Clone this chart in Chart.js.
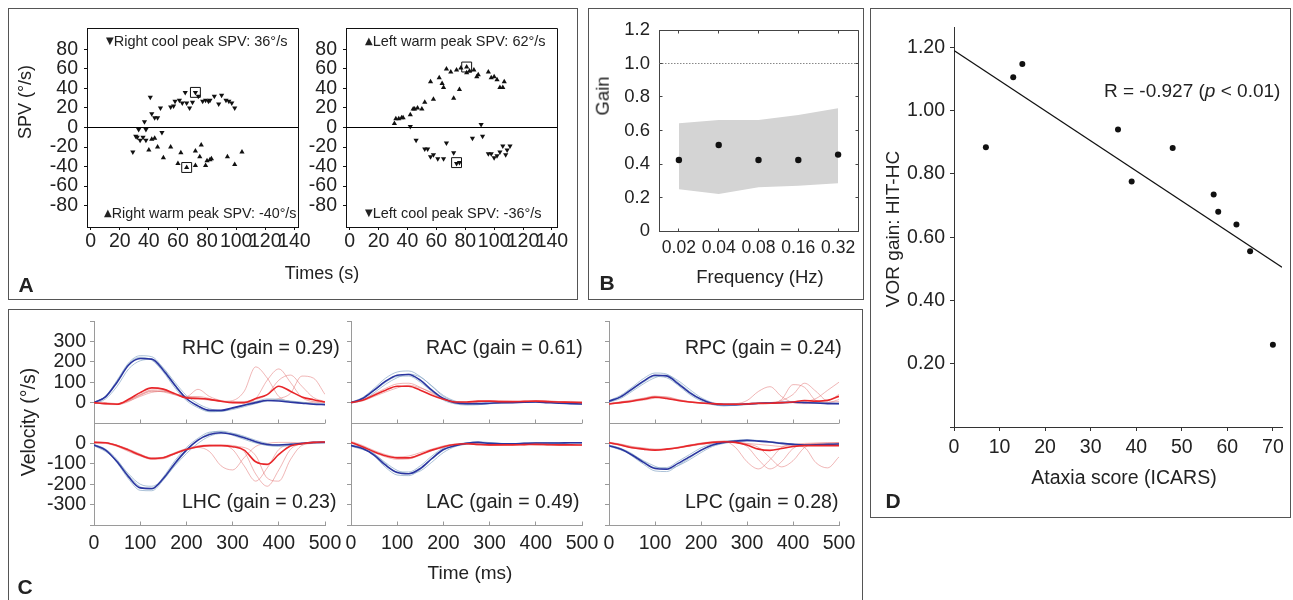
<!DOCTYPE html>
<html>
<head>
<meta charset="utf-8">
<script src="https://cdn.jsdelivr.net/npm/chart.js"></script>
<style>
  body { margin: 0; background: #fff; width: 1293px; height: 600px; overflow: hidden; position: relative;
         font-family: "Liberation Sans", Arial, sans-serif; color: #222; }
  .box { position: absolute; border: 1px solid #555; box-sizing: border-box; }
  .t { position: absolute; white-space: nowrap; line-height: 1; }
  .c { transform: translate(-50%, -50%); }
  .v { transform: translate(-50%, -50%) rotate(-90deg); }
  .m { transform: translateY(-50%); }
  .tag { font-weight: bold; font-size: 21px; }
  .tri { font-size: 10px; font-family: "DejaVu Sans", sans-serif; position: relative; top: -2px; }
  canvas { position: absolute; }
</style>
</head>
<body>
<div class="box" style="left:8px;top:8px;width:570px;height:292px"></div>
<div class="box" style="left:588px;top:8px;width:276px;height:292px"></div>
<div class="box" style="left:8px;top:309px;width:855px;height:300px"></div>
<div class="box" style="left:870px;top:8px;width:421px;height:510px"></div>

<script>
const FONT = '"Liberation Sans", Arial, sans-serif';

// ---- panel A: caloric slow-phase velocity
const aTicksX = [0, 20, 40, 60, 80, 100, 120, 140];
const aTicksY = [-80, -60, -40, -20, 0, 20, 40, 60, 80];
const rightCool = [[29,-25],[31,-9],[32,-10],[33,-2],[34,-13],[36,-10],[37,6],[38,-13],[38,-2],[41,31],[42,14],[44,10],[46,10],[48,20],[49,-5],
  [55,21],[57,22],[58,27],[61,28],[63,25],[65,36],[66,25],[68,20],[70,26],[72,36],[74,32],[77,27],[79,28],[81,27],[82,28],[85,32],[88,24],
  [90,33],[93,28],[95,27],[97,25],[99,20]];
const rightWarm = [[40,-23],[42,-12],[44,-11],[46,-20],[50,-31],[55,-20],[60,-37],[62,-26],[66,-41],[72,-39],[72,-24],[75,-30],[76,-18],
  [79,-39],[80,-34],[82,-33],[83,-32],[94,-30],[99,-38],[104,-25]];
const rightPeaks = [[72,36],[66,-41]];
const leftWarm = [[31,4],[32,9],[34,9],[36,10],[37,10],[42,13],[44,19],[45,19],[47,20],[50,19],[52,26],[56,47],[58,29],[62,51],[64,45],
  [65,41],[67,60],[70,57],[72,30],[74,59],[76,39],[77,61],[81,62],[81,56],[83,58],[86,59],[88,52],[89,54],[96,57],[98,51],[100,52],
  [102,49],[104,41],[106,41],[107,47]];
const leftCool = [[42,1],[46,-13],[52,-22],[54,-22],[56,-30],[58,-28],[61,-32],[65,-32],[67,-16],[72,-26],[74,-37],[76,-36],[85,-11],
  [91,3],[92,-9],[96,-27],[98,-27],[100,-31],[102,-29],[104,-25],[106,-19],[108,-28],[109,-23],[111,-19]];
const leftPeaks = [[81,62],[74,-36]];

// ---- panel B: rotatory chair gain
const freqLabels = ['0.02', '0.04', '0.08', '0.16', '0.32'];
const gainPatient = [0.424, 0.513, 0.424, 0.424, 0.456];
const normalHigh = [0.643, 0.663, 0.663, 0.693, 0.733];
const normalLow = [0.249, 0.221, 0.261, 0.270, 0.285];
const bTicksY = [0, 0.2, 0.4, 0.6, 0.8, 1.0, 1.2];

// ---- panel C: head impulse traces (velocity, deg/s)
const tMs = [0,25,50,75,100,125,150,175,200,225,250,275,300,325,350,375,400,425,450,475,500];
const cTicksX = [0, 100, 200, 300, 400, 500];
const rhcHead = [0,28,100,184,216,213,159,85,20,-16,-38,-38,-26,-13,0,10,8,2,-3,-8,-10];
const rhcEye = [0,-5,-8,16,49,72,66,44,23,20,16,7,0,0,20,39,80,56,28,14,3];
const rhcHeadTrials = [
  [0,32,110,195,230,225,168,90,22,-18,-42,-44,-30,-15,0,12,14,5,-2,-6,-8],
  [-5,18,80,165,205,212,170,100,35,-5,-30,-40,-34,-20,-5,8,12,8,2,-4,-10],
  [2,30,105,190,222,208,150,72,10,-25,-45,-42,-28,-10,5,18,16,6,0,-5,-8]];
const rhcEyeTrials = [
  [0,-3,-6,10,40,62,60,40,28,30,20,5,10,55,175,120,30,5,0,2,5],
  [0,-8,-10,5,35,55,55,40,30,65,30,10,5,0,20,110,165,100,25,5,0],
  [5,0,-5,8,30,50,55,45,30,25,15,8,2,5,15,40,110,135,80,25,5],
  [-3,-6,-8,12,38,58,52,38,22,18,12,6,0,-2,5,10,20,45,130,120,40]];
const lhcHead = [-8,-33,-90,-164,-218,-221,-172,-98,-33,16,44,52,44,28,8,-5,-8,-5,0,5,5];
const lhcEye = [5,3,-11,-33,-57,-74,-70,-49,-30,-16,-11,-11,-16,-33,-90,-103,-54,-13,-2,5,7];
const lhcHeadTrials = [
  [-5,-30,-95,-175,-230,-232,-180,-105,-38,15,50,60,50,30,5,-10,-15,-10,-2,3,5],
  [-12,-40,-85,-150,-200,-210,-175,-110,-50,0,35,48,48,35,15,0,-10,-8,-3,2,4],
  [-6,-28,-80,-158,-212,-225,-165,-85,-20,25,55,58,40,20,2,-8,-6,-3,0,4,6]];
const lhcEyeTrials = [
  [8,5,-8,-30,-55,-70,-68,-50,-30,-20,-40,-110,-130,-70,-15,0,5,5,3,5,8],
  [3,0,-15,-40,-62,-78,-75,-52,-30,-15,-10,-10,-30,-110,-185,-120,-30,-5,0,4,6],
  [6,4,-10,-28,-52,-72,-72,-52,-32,-18,-12,-8,-10,-40,-150,-210,-130,-30,-2,3,5],
  [2,2,-12,-36,-60,-76,-68,-45,-25,-12,-8,-10,-15,-20,-60,-170,-185,-80,-10,0,4]];
const racHead = [0,20,61,105,134,138,110,61,20,0,-5,-5,-3,-1,0,2,3,0,-3,-5,-7];
const racEye = [0,11,36,61,80,80,61,36,16,3,3,7,7,5,5,6,7,5,3,2,0];
const racHeadTrials = [
  [2,25,70,120,150,155,128,80,30,5,-8,-10,-6,-2,0,3,4,1,-2,-4,-6],
  [-3,12,48,90,122,140,125,82,35,8,-3,-6,-4,-2,0,1,2,0,-3,-6,-8],
  [0,18,58,100,128,130,100,55,12,-6,-12,-10,-5,0,2,4,5,2,-1,-4,-5]];
const racEyeTrials = [
  [2,14,42,70,92,95,75,45,20,6,2,5,8,6,4,8,9,6,4,6,3],
  [-2,8,30,52,72,85,72,50,22,-2,-8,2,6,8,6,5,8,9,5,3,2]];
const lacHead = [-11,-25,-57,-107,-143,-149,-123,-74,-30,-11,0,5,0,-2,-2,0,2,2,2,3,3];
const lacEye = [5,-16,-41,-61,-71,-71,-54,-33,-16,-5,-2,-5,-7,-7,-7,-6,-5,-6,-7,-7,-8];
const lacHeadTrials = [
  [-8,-22,-62,-118,-155,-158,-128,-78,-34,-12,2,8,4,0,-2,1,3,3,2,4,4],
  [-14,-30,-52,-95,-132,-148,-135,-92,-45,-16,-4,3,2,-1,-3,-1,1,2,1,2,2],
  [-10,-20,-50,-100,-140,-140,-110,-62,-22,-6,3,6,1,-2,-2,1,3,2,3,4,3]];
const lacEyeTrials = [
  [10,-10,-35,-55,-66,-62,-45,-28,-12,-3,0,-8,-10,-5,-8,-4,-7,-9,-5,-6,-10],
  [2,-20,-45,-66,-78,-76,-58,-36,-20,-8,-4,-3,-10,-9,-5,-8,-3,-6,-10,-8,-6]];
const rpcHead = [7,28,66,105,134,131,93,49,16,-5,-10,-10,-7,-3,-2,0,2,0,-2,-5,-5];
const rpcEye = [-7,0,7,16,26,20,10,3,-2,-5,-8,-8,-7,-3,-3,0,3,10,7,11,31];
const rpcHeadTrials = [
  [10,35,75,118,145,140,100,55,18,-8,-15,-14,-10,-5,-3,0,2,1,-1,-3,-4],
  [2,20,55,92,122,135,108,65,25,0,-8,-12,-9,-5,-2,1,3,1,-1,-4,-6],
  [5,25,62,100,128,122,85,40,8,-10,-16,-12,-6,-2,0,2,3,1,-1,-3,-5]];
const rpcEyeTrials = [
  [-5,2,10,20,30,25,12,4,0,-4,-6,-5,10,55,78,30,0,-5,-3,2,5],
  [-8,-2,5,12,22,28,15,5,-2,-6,-8,-6,-5,-8,-5,15,88,75,10,0,15],
  [-6,0,8,18,28,22,10,2,-4,-6,-7,-8,-4,-3,0,10,40,95,55,10,40],
  [-4,4,12,22,32,26,14,4,-2,-5,-9,-7,-6,-4,-2,-2,0,5,20,60,100]];
const lpcHead = [-11,-28,-57,-93,-123,-126,-98,-66,-33,-8,5,11,15,11,7,0,-5,-8,-7,-5,-3];
const lpcEye = [3,-8,-21,-28,-33,-28,-21,-11,-2,5,8,5,-8,-28,-34,-25,-15,-11,-11,-11,-11];
const lpcHeadTrials = [
  [-8,-25,-62,-102,-135,-138,-108,-72,-36,-10,6,14,18,14,8,1,-4,-8,-8,-6,-4],
  [-14,-32,-55,-85,-112,-128,-110,-80,-45,-15,0,8,12,12,9,3,-3,-6,-8,-6,-3],
  [-10,-24,-50,-88,-118,-118,-88,-55,-22,-2,10,15,16,10,5,-1,-4,-6,-5,-3,-2]];
const lpcEyeTrials = [
  [5,-5,-18,-25,-30,-28,-20,-10,0,6,10,-20,-90,-125,-80,-20,-5,0,2,3,2],
  [2,-10,-22,-30,-35,-30,-22,-12,-3,5,8,5,-15,-80,-125,-90,-25,-5,0,2,4],
  [6,-3,-15,-22,-28,-26,-18,-8,2,8,12,8,-2,-20,-70,-115,-85,-20,-2,0,2],
  [0,-6,-18,-26,-32,-30,-22,-14,-5,2,5,3,0,-5,-10,-15,-10,-20,-95,-120,-66]];

// ---- panel D: VOR gain vs ataxia score
const ataxiaScore = [7, 13, 15, 36, 39, 48, 57, 58, 62, 65, 70];
const vorGain = [0.884, 1.105, 1.147, 0.94, 0.776, 0.882, 0.735, 0.68, 0.64, 0.555, 0.26];
const regLine = [[0, 1.19], [72, 0.505]];
const dTicksX = [0, 10, 20, 30, 40, 50, 60, 70];
const dTicksY = [0, 0.2, 0.4, 0.6, 0.8, 1.0, 1.2];

// ---------------------------------------------------------------------------
const PAD = 40;
const al = v => Math.round(v - 0.5) + 0.5;

// frame edges, inward tick marks and reference lines
const decor = {
  id: 'decor',
  afterDatasetsDraw(chart, args, o) {
    if (!o || !o.on) return;
    const { ctx, chartArea: a, scales } = chart;
    const L = al(a.left), R = al(a.right), T = al(a.top), B = al(a.bottom);
    ctx.save();
    ctx.lineWidth = 1;
    if (o.hline) {
      const y = al(scales.y.getPixelForValue(o.hline.value));
      ctx.strokeStyle = o.hline.color;
      ctx.setLineDash(o.hline.dash || []);
      ctx.beginPath(); ctx.moveTo(a.left, y); ctx.lineTo(a.right, y); ctx.stroke();
      ctx.setLineDash([]);
    }
    ctx.strokeStyle = o.color;
    ctx.beginPath();
    if (o.frame) { ctx.moveTo(L, T); ctx.lineTo(R, T); ctx.lineTo(R, B); }
    if (o.bottomLine) { ctx.moveTo(L, B); ctx.lineTo(a.right, B); }
    const tl = o.tl || 3;
    (o.inTicks || []).forEach(side => {
      if (side === 'top' || side === 'bottom') {
        o.xt.forEach(v => {
          const p = al(scales.x.getPixelForValue(v));
          if (side === 'bottom') { ctx.moveTo(p, B); ctx.lineTo(p, B - tl); }
          else { ctx.moveTo(p, T); ctx.lineTo(p, T + tl); }
        });
      } else {
        o.yt.forEach(v => {
          const p = al(scales.y.getPixelForValue(v));
          if (side === 'left') { ctx.moveTo(L, p); ctx.lineTo(L + tl, p); }
          else { ctx.moveTo(R, p); ctx.lineTo(R - tl, p); }
        });
      }
    });
    ctx.stroke();
    ctx.restore();
  }
};

Chart.register(decor);
Chart.defaults.animation = false;
Chart.defaults.events = [];
Chart.defaults.font.family = FONT;
Chart.defaults.color = '#222';
Chart.defaults.plugins.legend.display = false;
Chart.defaults.plugins.tooltip.enabled = false;

function mount(area, wy, hx) {
  const cv = document.createElement('canvas');
  const w = area.r - area.l + wy + 2 * PAD;
  const h = area.b - area.t + hx + 2 * PAD;
  cv.width = w; cv.height = h;
  cv.style.left = (area.l - wy - PAD) + 'px';
  cv.style.top = (area.t - PAD) + 'px';
  cv.style.width = w + 'px';
  cv.style.height = h + 'px';
  document.body.appendChild(cv);
  return cv;
}

function axis(pos, min, max, ticks, st) {
  return {
    type: 'linear', position: pos, min, max, bounds: 'data',
    afterBuildTicks: s => { s.ticks = ticks.map(v => ({ value: v })); },
    afterFit: s => {
      if (pos === 'bottom') { s.height = st.size; s.paddingLeft = 0; s.paddingRight = 0; }
      else { s.width = st.size; s.paddingTop = 0; s.paddingBottom = 0; }
    },
    border: { display: true, color: st.color, width: 1 },
    grid: { drawOnChartArea: false, drawTicks: st.tl > 0, tickLength: st.tl, color: st.color },
    ticks: {
      autoSkip: false, maxRotation: 0, minRotation: 0, padding: st.pad, color: '#222',
      font: { size: st.fs, lineHeight: 1 }, callback: st.cb || (v => String(v)),
    },
  };
}

const baseOpts = (scales, decorOpts) => ({
  responsive: false, maintainAspectRatio: false, devicePixelRatio: 1,
  layout: { padding: PAD },
  scales,
  plugins: { decor: Object.assign({ on: true }, decorOpts) },
});

const pts = (arr) => arr.map(([x, y]) => ({ x, y }));

// ---- panel A
function tri(arr, rot) {
  return { data: pts(arr), pointStyle: 'triangle', rotation: rot, pointRadius: 3,
           backgroundColor: '#111', borderColor: '#111', borderWidth: 0 };
}
function peakBox(arr) {
  return { data: pts(arr), pointStyle: 'rect', pointRadius: 7, backgroundColor: 'rgba(0,0,0,0)',
           borderColor: '#111', borderWidth: 1 };
}
const aY = { size: 50, tl: 3, pad: 6, fs: 19.5, color: '#111' };
const aX = { size: 30, tl: 3, pad: 2, fs: 19.5, color: '#111' };

new Chart(mount({ l: 87, r: 298, t: 28, b: 227 }, 50, 30), {
  type: 'scatter',
  data: { datasets: [peakBox(rightPeaks), tri(rightCool, 180), tri(rightWarm, 0)] },
  options: baseOpts({
    x: axis('bottom', -2.5, 142.5, aTicksX, aX),
    y: axis('left', -102, 102, aTicksY, aY),
  }, { color: '#111', frame: true, hline: { value: 0, color: '#000' } }),
});

new Chart(mount({ l: 346, r: 557, t: 28, b: 227 }, 50, 30), {
  type: 'scatter',
  data: { datasets: [peakBox(leftPeaks), tri(leftWarm, 0), tri(leftCool, 180)] },
  options: baseOpts({
    x: axis('bottom', -2.5, 143.5, aTicksX, aX),
    y: axis('left', -102, 102, aTicksY, aY),
  }, { color: '#111', frame: true, hline: { value: 0, color: '#000' } }),
});

// ---- panel B
new Chart(mount({ l: 659, r: 858, t: 30, b: 231 }, 50, 30), {
  type: 'scatter',
  data: { datasets: [
    { data: gainPatient.map((y, x) => ({ x, y })), pointRadius: 3.2, backgroundColor: '#111', borderWidth: 0 },
    { type: 'line', data: normalHigh.map((y, x) => ({ x, y })), fill: '+1', backgroundColor: '#d4d4d4',
      borderWidth: 0, pointRadius: 0 },
    { type: 'line', data: normalLow.map((y, x) => ({ x, y })), fill: false, borderWidth: 0, pointRadius: 0 },
  ] },
  options: baseOpts({
    x: axis('bottom', -0.5, 4.5, [0, 1, 2, 3, 4],
      { size: 30, tl: 0, pad: 8, fs: 17.5, color: '#444', cb: v => freqLabels[v] }),
    y: axis('left', 0, 1.2, bTicksY,
      { size: 50, tl: 0, pad: 9, fs: 18.5, color: '#444', cb: v => v === 0 ? '0' : v.toFixed(1) }),
  }, { color: '#444', frame: true, inTicks: ['top', 'bottom', 'left', 'right'], xt: [0, 1, 2, 3, 4],
       yt: bTicksY, tl: 3, hline: { value: 1.0, color: '#888', dash: [1.5, 1.5] } }),
});

// ---- panel C
const HEAD = '#2a35a0', EYE = '#e8262a';
const HEAD_T = 'rgba(140,170,200,0.8)', EYE_T = 'rgba(228,120,120,0.6)';
function trace(ys, color, w) {
  return { type: 'line', data: ys.map((y, i) => ({ x: tMs[i], y })), borderColor: color, borderWidth: w,
           pointRadius: 0, fill: false, cubicInterpolationMode: 'monotone' };
}
const cCols = [[94, 325], [351, 582], [609, 839]];
const cSets = [
  [rhcHead, rhcEye, rhcHeadTrials, rhcEyeTrials, lhcHead, lhcEye, lhcHeadTrials, lhcEyeTrials],
  [racHead, racEye, racHeadTrials, racEyeTrials, lacHead, lacEye, lacHeadTrials, lacEyeTrials],
  [rpcHead, rpcEye, rpcHeadTrials, rpcEyeTrials, lpcHead, lpcEye, lpcHeadTrials, lpcEyeTrials],
];
const CGRAY = '#9a9a9a';
cCols.forEach(([l, r], c) => {
  const s = cSets[c];
  const showY = c === 0;
  // upper half: rightward impulses
  new Chart(mount({ l, r, t: 321, b: 423 }, 50, 0), {
    type: 'scatter',
    data: { datasets: [trace(s[1], EYE, 1.6), trace(s[0], HEAD, 1.6),
      ...s[2].map(ys => trace(ys, HEAD_T, 0.9)), ...s[3].map(ys => trace(ys, EYE_T, 0.9))] },
    options: baseOpts({
      x: { type: 'linear', display: false, min: 0, max: 500 },
      y: axis('left', -100, 400, [0, 100, 200, 300, 400],
        { size: 50, tl: 4, pad: 4, fs: 19.5, color: CGRAY, cb: v => (showY && v <= 300) ? String(v) : '' }),
    }, { color: CGRAY, bottomLine: true, inTicks: ['bottom'], xt: cTicksX, tl: 4 }),
  });
  // lower half: leftward impulses
  new Chart(mount({ l, r, t: 423, b: 525 }, 50, 35), {
    type: 'scatter',
    data: { datasets: [trace(s[5], EYE, 1.6), trace(s[4], HEAD, 1.6),
      ...s[6].map(ys => trace(ys, HEAD_T, 0.9)), ...s[7].map(ys => trace(ys, EYE_T, 0.9))] },
    options: baseOpts({
      x: axis('bottom', 0, 500, cTicksX, { size: 35, tl: 0, pad: 9, fs: 19.5, color: CGRAY }),
      y: axis('left', -400, 100, [-400, -300, -200, -100, 0],
        { size: 50, tl: 4, pad: 4, fs: 19.5, color: CGRAY, cb: v => (showY && v >= -300) ? String(v) : '' }),
    }, { color: CGRAY, inTicks: ['bottom'], xt: cTicksX, tl: 4 }),
  });
});

// ---- panel D
new Chart(mount({ l: 954, r: 1282, t: 27, b: 427 }, 60, 40), {
  type: 'scatter',
  data: { datasets: [
    { data: ataxiaScore.map((x, i) => ({ x, y: vorGain[i] })), pointRadius: 3, backgroundColor: '#111', borderWidth: 0 },
    { type: 'line', data: pts(regLine), borderColor: '#111', borderWidth: 1.2, pointRadius: 0, fill: false },
  ] },
  options: baseOpts({
    x: axis('bottom', 0, 72, dTicksX, { size: 40, tl: 4, pad: 7, fs: 19.5, color: '#333' }),
    y: axis('left', 0, 1.264, dTicksY,
      { size: 60, tl: 4, pad: 5, fs: 19.5, color: '#333', cb: v => v === 0 ? '' : v.toFixed(2) }),
  }, {}),
});
</script>

<!-- panel A text -->
<div class="t m" style="left:106px;top:41px;font-size:14.5px"><span class="tri">▼</span>Right cool peak SPV: 36°/s</div>
<div class="t m" style="left:104px;top:213px;font-size:14.3px"><span class="tri">▲</span>Right warm peak SPV: -40°/s</div>
<div class="t m" style="left:365px;top:41px;font-size:14.5px"><span class="tri">▲</span>Left warm peak SPV: 62°/s</div>
<div class="t m" style="left:365px;top:213px;font-size:14.5px"><span class="tri">▼</span>Left cool peak SPV: -36°/s</div>
<div class="t v" style="left:25px;top:102px;font-size:18px">SPV (°/s)</div>
<div class="t c" style="left:322px;top:273px;font-size:18px">Times (s)</div>
<div class="t c tag" style="left:26px;top:284px">A</div>

<!-- panel B text -->
<div class="t v" style="left:603px;top:96px;font-size:18.5px">Gain</div>
<div class="t c" style="left:760px;top:277px;font-size:18.5px">Frequency (Hz)</div>
<div class="t c tag" style="left:607px;top:282px">B</div>

<!-- panel C text -->
<div class="t m" style="left:182px;top:348px;font-size:19.5px">RHC (gain = 0.29)</div>
<div class="t m" style="left:182px;top:502px;font-size:19.5px">LHC (gain = 0.23)</div>
<div class="t m" style="left:426px;top:348px;font-size:19.5px">RAC (gain = 0.61)</div>
<div class="t m" style="left:426px;top:502px;font-size:19.5px">LAC (gain = 0.49)</div>
<div class="t m" style="left:685px;top:348px;font-size:19.5px">RPC (gain = 0.24)</div>
<div class="t m" style="left:685px;top:502px;font-size:19.5px">LPC (gain = 0.28)</div>
<div class="t v" style="left:29px;top:422px;font-size:19.5px">Velocity (°/s)</div>
<div class="t c" style="left:470px;top:572px;font-size:19px">Time (ms)</div>
<div class="t c tag" style="left:25px;top:586px">C</div>

<!-- panel D text -->
<div class="t m" style="left:1104px;top:90px;font-size:19px">R = -0.927 (<i>p</i> &lt; 0.01)</div>
<div class="t v" style="left:892px;top:229px;font-size:19px">VOR gain: HIT-HC</div>
<div class="t c" style="left:1124px;top:478px;font-size:19.5px">Ataxia score (ICARS)</div>
<div class="t c tag" style="left:893px;top:500px">D</div>
</body>
</html>
